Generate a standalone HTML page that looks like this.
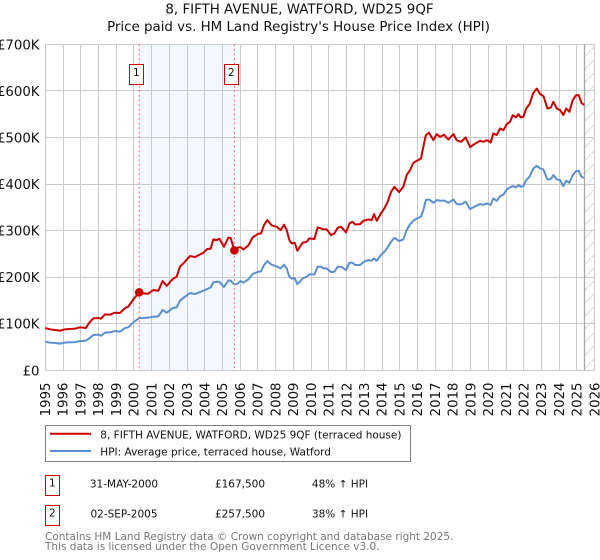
<!DOCTYPE html>
<html lang="en">
<head>
<meta charset="utf-8">
<title>8, FIFTH AVENUE, WATFORD, WD25 9QF</title>
<style>
html,body{margin:0;padding:0;background:#fff;}
svg{display:block;}
text{font-family:"DejaVu Sans","Liberation Sans",sans-serif;fill:#111;}
</style>
</head>
<body>
<svg id="chart" xmlns="http://www.w3.org/2000/svg" width="600" height="560" viewBox="0 0 600 560">
  <defs>
    <pattern id="hatch" patternUnits="userSpaceOnUse" width="13" height="13" patternTransform="translate(584 44)">
      <path d="M-1 14 L14 -1" stroke="#dadada" stroke-width="1" fill="none"/>
    </pattern>
  </defs>
  <text x="299.5" y="13.5" font-size="13.4" text-anchor="middle">8, FIFTH AVENUE, WATFORD, WD25 9QF</text>
  <text x="298.5" y="31" font-size="13.4" text-anchor="middle">Price paid vs. HM Land Registry's House Price Index (HPI)</text>
  <g id="shade-layer"></g>
  <g id="grid-layer"></g>
  <rect x="584.3" y="44.3" width="10.4" height="326" fill="url(#hatch)"/>
  <line x1="584.5" y1="44.3" x2="584.5" y2="370.3" stroke="#a8a8a8" stroke-width="1.3"/>
  <g id="series-layer"></g>
  <g id="axis-layer"></g>
  <g id="sale-layer"></g>

  <g>
    <rect x="45.5" y="425.5" width="365" height="36" fill="#fff" stroke="#808080" stroke-width="1"/>
    <line x1="50" y1="433.7" x2="91" y2="433.7" stroke="#cc0000" stroke-width="2"/>
    <text x="100.3" y="438.3" font-size="10.5">8, FIFTH AVENUE, WATFORD, WD25 9QF (terraced house)</text>
    <line x1="50" y1="451" x2="91" y2="451" stroke="#5b8fd0" stroke-width="2"/>
    <text x="100.3" y="455.3" font-size="10.5">HPI: Average price, terraced house, Watford</text>
  </g>

  <g>
    <rect x="45.5" y="475.5" width="14" height="20" fill="#fff" stroke="#cc0000" stroke-width="1"/>
    <text x="52.3" y="486.7" font-size="10.5" text-anchor="middle">1</text>
    <text x="124" y="487.3" font-size="10.5" text-anchor="middle">31-MAY-2000</text>
    <text x="240" y="487.3" font-size="10.5" text-anchor="middle">£167,500</text>
    <text x="340" y="487.3" font-size="10.5" text-anchor="middle">48% ↑ HPI</text>
  </g>
  <g>
    <rect x="45.5" y="505.5" width="14" height="20" fill="#fff" stroke="#cc0000" stroke-width="1"/>
    <text x="52.3" y="516.7" font-size="10.5" text-anchor="middle">2</text>
    <text x="124" y="517.3" font-size="10.5" text-anchor="middle">02-SEP-2005</text>
    <text x="240" y="517.3" font-size="10.5" text-anchor="middle">£257,500</text>
    <text x="340" y="517.3" font-size="10.5" text-anchor="middle">38% ↑ HPI</text>
  </g>

  <text x="45" y="540" font-size="10.5" style="fill:#777">Contains HM Land Registry data © Crown copyright and database right 2025.</text>
  <text x="45" y="550" font-size="10.5" style="fill:#777">This data is licensed under the Open Government Licence v3.0.</text>
</svg>
<script>
const years = [
1995.00,1995.26,1995.55,1995.83,1996.11,1996.39,1996.67,1996.96,1997.29,1997.48,1997.71,1998.00,1998.14,1998.37,1998.65,1998.93,1999.21,1999.50,1999.68,1999.97,
2000.30,2000.53,2000.81,2001.09,2001.38,2001.62,2001.85,2002.19,2002.41,2002.60,2002.88,2003.16,2003.45,2003.92,2004.14,2004.33,2004.48,2004.67,2004.82,2005.08,
2005.33,2005.46,2005.67,2005.84,2006.02,2006.17,2006.46,2006.70,2007.02,2007.17,2007.34,2007.53,2007.77,2008.05,2008.28,2008.47,2008.62,2008.77,2008.90,2009.07,2009.22,
2009.37,2009.52,2009.75,2009.90,2010.18,2010.37,2010.56,2010.69,2010.88,2011.12,2011.31,2011.50,2011.69,2011.97,2012.16,2012.33,2012.48,2012.76,2012.95,2013.23,2013.42,2013.55,2013.70,2013.94,2014.13,
2014.32,2014.51,2014.70,2014.96,2015.20,2015.39,2015.58,2015.77,2015.96,2016.20,2016.33,2016.47,2016.65,2016.90,2017.09,2017.27,2017.50,2017.74,2018.03,2018.21,2018.46,2018.72,2018.97,2019.21,2019.53,2019.72,2019.91,2020.13,
2020.28,2020.47,2020.66,2020.85,2021.04,2021.22,2021.38,2021.56,2021.70,2021.83,2021.98,2022.13,2022.32,2022.54,2022.73,2022.92,2023.11,2023.33,2023.52,2023.67,2023.86,2024.05,2024.23,2024.39,2024.57,2024.76,2024.95,2025.10,2025.25,2025.40
];
const pricePaidValues = [
90.8,88.0,86.5,85.1,88.0,88.7,89.4,92.3,90.8,102.3,111.6,112.3,110.9,120.2,119.4,123.7,123.0,133.7,136.6,152.3,
167.5,165.2,164.5,172.4,170.9,191.7,181.0,196.0,201.0,222.4,233.2,245.3,243.2,252.5,260.4,261.1,281.1,279.7,282.5,265.4,
284.7,284.0,257.5,263.2,264.6,259.6,268.2,285.4,293.3,294.0,311.9,322.6,311.1,308.3,301.1,312.6,301.1,279.7,272.5,273.9,256.8,
265.3,273.9,276.0,283.2,281.7,306.8,304.6,302.5,302.5,290.3,293.9,306.1,308.2,296.1,315.4,318.9,313.2,313.9,321.1,324.0,322.5,335.4,321.1,336.8,347.6,
361.8,383.3,394.0,382.6,394.0,419.1,429.8,445.5,449.8,454.8,479.9,504.9,509.9,494.2,507.1,501.3,505.6,495.6,507.1,494.2,490.6,499.9,479.2,485.6,492.8,490.6,494.2,489.2,
508.6,505.0,519.3,515.7,528.6,533.6,547.9,542.9,550.0,542.9,544.3,562.2,571.5,595.8,605.1,593.0,588.7,562.2,564.3,576.5,562.2,558.6,547.9,562.2,555.0,580.1,590.8,590.8,574.4,569.4
];
const hpiValues = [
61.5,59.4,58.6,57.2,59.4,60.1,60.1,62.9,63.6,68.6,75.8,76.5,74.4,80.8,81.5,84.4,83.0,90.8,92.3,103.0,
112.3,112.3,113.0,115.1,115.9,129.5,123.7,133.7,135.2,149.5,158.1,165.9,163.8,170.9,174.5,178.1,188.8,190.2,190.2,178.8,
193.1,192.4,184.5,186.0,191.7,188.1,195.3,206.7,211.7,212.4,226.0,234.6,226.7,223.2,218.9,226.7,218.9,201.0,196.7,198.1,185.2,
190.2,197.3,200.9,205.9,205.9,222.4,222.4,218.8,218.8,210.9,211.6,222.4,222.4,215.2,231.0,231.0,226.0,226.0,232.4,236.7,235.3,240.3,235.3,247.4,254.6,
263.9,276.0,284.6,277.4,281.0,301.1,313.2,321.1,326.1,329.7,344.0,365.4,366.9,359.7,365.4,364.0,364.7,359.7,366.9,356.9,356.2,361.9,346.1,351.1,356.9,355.4,358.3,355.4,
369.1,363.9,374.0,377.3,388.4,392.7,395.5,392.7,397.7,394.1,395.5,408.4,415.6,433.4,439.2,433.4,431.3,409.8,410.6,419.1,409.8,408.4,395.5,407.0,402.7,419.1,427.7,428.4,415.6,413.4
];
const yearTicks = [1995,1996,1997,1998,1999,2000,2001,2002,2003,2004,2005,2006,2007,2008,2009,2010,2011,2012,2013,2014,2015,2016,2017,2018,2019,2020,2021,2022,2023,2024,2025,2026];
const valueTicks = [0,100,200,300,400,500,600,700];
const valueTickLabels = ["£0","£100K","£200K","£300K","£400K","£500K","£600K","£700K"];
const saleYears = [2000.30,2005.67];
const salePrices = [167.5,257.5];
const saleLabels = ["1","2"];

const SVG_NS = "http://www.w3.org/2000/svg";
function xScale(year){ return 45.3 + (year - 1995) * 549.4 / 31; }
function yScale(value){ return 370.3 - value * 326 / 700; }
function make(tag, attrs, parent){
  const el = document.createElementNS(SVG_NS, tag);
  for (const k in attrs) el.setAttribute(k, attrs[k]);
  parent.appendChild(el);
  return el;
}
const shadeLayer = document.getElementById("shade-layer");
const gridLayer = document.getElementById("grid-layer");
const seriesLayer = document.getElementById("series-layer");
const axisLayer = document.getElementById("axis-layer");
const saleLayer = document.getElementById("sale-layer");

const shade = make("rect", {x:xScale(saleYears[0]), y:yScale(700), width:xScale(saleYears[1])-xScale(saleYears[0]), height:yScale(0)-yScale(700), fill:"#f3f7ff"}, shadeLayer);



yearTicks.forEach(function(year){
  const x = Math.round(xScale(year) - 0.5) + 0.5;
  const grid = make("line", {x1:x, x2:x, y1:yScale(700), y2:yScale(0), stroke:"#cbcbcb", "stroke-width":1}, gridLayer);
  
  
  const lx = xScale(year) + 4.7;
  const label = make("text", {x:lx, y:382.5, "font-size":13.3, "text-anchor":"end", transform:"rotate(-90 " + lx + " 382.5)"}, axisLayer);
  
  
  label.textContent = String(year);
});
valueTicks.forEach(function(value, i){
  const y = Math.round(yScale(value) - 0.5) + 0.5;
  const grid = make("line", {x1:xScale(1995), x2:xScale(2026), y1:y, y2:y, stroke:"#cbcbcb", "stroke-width":1}, gridLayer);
  
  
  const label = make("text", {x:39.5, y:yScale(value) + 5, "font-size":13.3, "text-anchor":"end"}, axisLayer);
  
  
  label.textContent = valueTickLabels[i];
});

function pathFor(values){
  return values.map(function(v, i){
    return (i ? "L" : "M") + xScale(years[i]).toFixed(2) + " " + yScale(v).toFixed(2);
  }).join(" ");
}
const redLine = make("path", {d:pathFor(pricePaidValues), fill:"none", stroke:"#cc0000", "stroke-width":2, "stroke-linejoin":"round"}, seriesLayer);


const blueLine = make("path", {d:pathFor(hpiValues), fill:"none", stroke:"#5b8fd0", "stroke-width":2, "stroke-linejoin":"round"}, seriesLayer);



saleYears.forEach(function(year, i){
  const x = xScale(year);
  const rule = make("line", {x1:x, x2:x, y1:yScale(700), y2:yScale(0), stroke:"#ff6a6a", "stroke-width":1, "stroke-dasharray":"2 2.6"}, saleLayer);
  
  
  const dot = make("circle", {cx:x, cy:yScale(salePrices[i]), r:4.3, fill:"#cc0000"}, saleLayer);
  
  
  const box = make("rect", {x:Math.round(x - 7) - 2.5, y:64.5, width:14, height:20, fill:"#fff", stroke:"#cc0000", "stroke-width":1}, saleLayer);
  
  
  const num = make("text", {x:Math.round(x - 7) + 4.3, y:76, "font-size":10.5, "text-anchor":"middle"}, saleLayer);
  
  
  num.textContent = saleLabels[i];
});
</script>
</body>
</html>
